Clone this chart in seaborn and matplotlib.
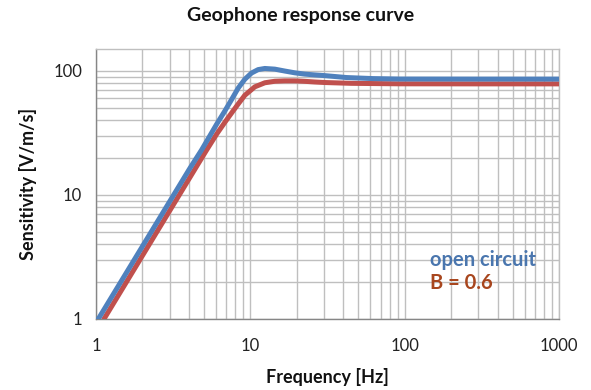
import numpy as np
import pandas as pd
import matplotlib
matplotlib.use("Agg")
import matplotlib.pyplot as plt
import seaborn as sns
from matplotlib.ticker import LogLocator, FixedLocator, NullFormatter

# Data
freq_open = [1.035, 4.06, 4.83, 6.04, 6.84, 7.55, 8.34, 9.21, 10.18, 11.23, 12.41,
             14.41, 16.73, 19.41, 22.53, 26.16, 30.36, 41.95, 62.35, 92.8, 300.0, 1000.0]
sens_open = [1.0, 16.4, 23.0, 37.0, 47.5, 58.5, 72.5, 85.5, 96.0, 102.3, 104.5,
             103.2, 99.6, 96.4, 94.1, 92.7, 91.5, 88.3, 86.6, 85.9, 85.8, 85.8]

freq_b06 = [1.127, 4.49, 5.21, 6.04, 6.84, 7.74, 8.34, 9.21, 10.69, 12.41, 14.41,
            16.73, 19.41, 22.53, 26.16, 30.36, 45.0, 92.8, 300.0, 1000.0]
sens_b06 = [1.0, 17.0, 23.0, 30.8, 38.5, 47.6, 54.0, 63.5, 74.3, 80.1, 82.4,
            83.0, 83.0, 82.3, 81.3, 80.5, 79.3, 78.6, 78.5, 78.5]

x_ticks = [1, 10, 100, 1000]
y_ticks = [1, 10, 100]
title = "Geophone response curve"
xlabel = "Frequency [Hz]"
ylabel = "Sensitivity [V/m/s]"
label_open = "open circuit"
label_b06 = "B = 0.6"

sns.set_theme(style="white")
plt.rcParams['font.family'] = ['Lato', 'DejaVu Sans']

fig, ax = plt.subplots(figsize=(5.91, 3.90), dpi=100)
fig.subplots_adjust(left=0.1624, right=0.9459, top=0.8744, bottom=0.1821)

df_open = pd.DataFrame({"f": freq_open, "s": sens_open})
df_b06 = pd.DataFrame({"f": freq_b06, "s": sens_b06})

blue = "#4F81BD"
red = "#C0504D"
sns.lineplot(data=df_open, x="f", y="s", ax=ax, color=blue, linewidth=3.6, zorder=4)
sns.lineplot(data=df_b06, x="f", y="s", ax=ax, color=red, linewidth=3.6, zorder=3)
for ln in ax.get_lines():
    ln.set_solid_joinstyle("round")

ax.set_xscale("log")
ax.set_yscale("log")
ax.set_xlim(1, 1000)
ax.set_ylim(1, 150)

grid_c = "#BFBFBF"
ax.xaxis.set_major_locator(FixedLocator(x_ticks))
ax.yaxis.set_major_locator(FixedLocator(y_ticks))
ax.set_xticklabels([str(t) for t in x_ticks])
ax.set_yticklabels([str(t) for t in y_ticks])
ax.xaxis.set_minor_locator(LogLocator(base=10, subs=np.arange(2, 10)))
ax.yaxis.set_minor_locator(LogLocator(base=10, subs=np.arange(2, 10)))
ax.xaxis.set_minor_formatter(NullFormatter())
ax.yaxis.set_minor_formatter(NullFormatter())
ax.grid(True, which="both", color=grid_c, linewidth=1.0)
ax.set_axisbelow(True)

ax.tick_params(axis="both", which="major", direction="out", length=4, width=1,
               color="#868686", labelsize=12, labelcolor="#222222", pad=6)
ax.tick_params(axis="both", which="minor", length=0)
ax.tick_params(axis="x", pad=10)

for side in ["top", "right"]:
    ax.spines[side].set_color(grid_c)
    ax.spines[side].set_linewidth(1.0)
for side in ["left", "bottom"]:
    ax.spines[side].set_color("#868686")
    ax.spines[side].set_linewidth(1.0)

ax.set_xlabel(xlabel, fontsize=13, fontweight="bold", color="#111111", labelpad=10)
ax.set_ylabel(ylabel, fontsize=13, fontweight="bold", color="#111111", labelpad=12)
fig.suptitle(title, x=0.508, y=0.982, fontsize=14, fontweight="bold", color="#111111")

ax.text(0.721, 0.2185, label_open, transform=ax.transAxes, fontsize=14.5,
        fontweight="bold", color="#4A76AE", va="center", ha="left")
ax.text(0.721, 0.133, label_b06, transform=ax.transAxes, fontsize=14.5,
        fontweight="bold", color="#A8461E", va="center", ha="left")

fig.savefig("out.png", dpi=100)
